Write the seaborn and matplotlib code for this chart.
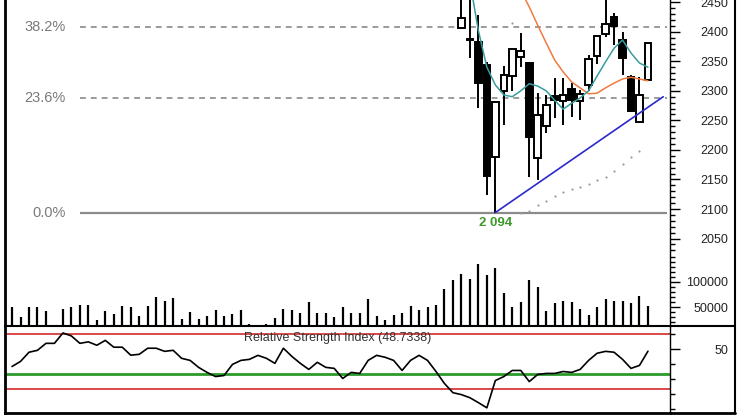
import matplotlib
matplotlib.use("Agg")
import matplotlib.pyplot as plt
import seaborn as sns
from matplotlib.patches import Rectangle
from matplotlib.lines import Line2D
from matplotlib.ticker import FixedLocator

# ---- data (bar index 0..75) ----
volume = [50000, 30000, 50000, 50000, 42000, 14000, 46000, 50000, 54000, 54000,
          24000, 42000, 36000, 52000, 50000, 32000, 52000, 70000, 62000, 68000,
          26000, 40000, 26000, 32000, 44000, 32000, 36000, 44000, 16000, 12000,
          16000, 28000, 46000, 44000, 38000, 60000, 38000, 38000, 30000, 50000,
          38000, 38000, 66000, 32000, 24000, 34000, 38000, 52000, 44000, 51000,
          55000, 87000, 105000, 117000, 107000, 137000, 114000, 128000, 78000, 51000,
          60000, 105000, 90000, 43000, 58000, 63000, 61000, 46000, 34000, 51000,
          67000, 63000, 63000, 58000, 73000, 53000]

rsi = [38.4, 41.8, 48.0, 49.3, 54.0, 54.0, 61.0, 59.0, 54.0, 55.0,
       52.7, 56.0, 51.4, 51.4, 46.0, 46.6, 50.7, 50.7, 48.6, 49.3,
       43.9, 42.5, 37.8, 34.4, 31.6, 32.3, 39.8, 42.5, 43.2, 45.9,
       43.9, 40.5, 50.7, 45.2, 40.5, 36.4, 41.2, 37.8, 37.1, 30.3,
       34.4, 33.7, 42.5, 45.9, 44.6, 42.5, 35.7, 42.5, 45.9, 42.5,
       35.0, 26.9, 20.7, 19.4, 17.3, 14.0, 10.5, 28.9, 31.6, 35.7,
       35.7, 28.2, 33.0, 33.7, 33.7, 35.0, 34.4, 36.4, 42.5, 47.3,
       48.6, 48.0, 43.2, 37.1, 39.1, 48.7]

# candles visible from bar 53 on (earlier ones sit above the price range)
candle_start = 53
opens = [2406, 2387, 2383, 2344, 2188, 2300, 2325, 2357, 2347, 2186, 2240, 2291,
         2283, 2303, 2283, 2310, 2359, 2396, 2425, 2386, 2323, 2247, 2318]
closes = [2423, 2386, 2313, 2156, 2281, 2327, 2371, 2367, 2222, 2259, 2276, 2284,
          2293, 2284, 2295, 2354, 2393, 2413, 2410, 2356, 2266, 2293, 2381]
highs = [2475, 2475, 2428, 2349, 2281, 2342, 2371, 2398, 2349, 2296, 2293, 2322,
         2322, 2313, 2301, 2361, 2393, 2475, 2432, 2400, 2327, 2323, 2381]
lows = [2406, 2356, 2271, 2124, 2094, 2242, 2300, 2340, 2154, 2149, 2229, 2254,
        2242, 2256, 2251, 2300, 2345, 2391, 2378, 2327, 2264, 2247, 2317]

ma_fast_start = 54
ma_fast = [2485, 2402, 2340, 2310, 2293, 2290, 2300, 2312, 2308, 2300, 2284,
           2269, 2279, 2288, 2300, 2325, 2349, 2372, 2386, 2364, 2347, 2340]
ma_slow_start = 60
ma_slow = [2470, 2442, 2411, 2381, 2352, 2332, 2315, 2305, 2295, 2296,
           2305, 2313, 2320, 2323, 2320, 2317]

sar_bars = [59, 60, 61, 62, 63, 64, 65, 66, 67, 68, 69, 70, 71, 72, 73, 74]
sar = [2415, 2094, 2097, 2106, 2113, 2122, 2129, 2134, 2137, 2142, 2149, 2154,
       2164, 2176, 2188, 2198]

fib_low, fib_high = 2094, 2916
fib_ratios = [0.0, 0.236, 0.382]
fib_labels = ["0.0%", "23.6%", "38.2%"]
trend_bars = [57, 76.8]
trend_prices = [2094, 2290]
rsi_upper, rsi_mid, rsi_lower = 60, 33, 23

sns.set_theme(style="white")
plt.rcParams['font.family'] = ['Liberation Sans', 'DejaVu Sans']

W, H = 740, 416
fig = plt.figure(figsize=(W / 100, H / 100), dpi=100)
ax = fig.add_axes([5 / W, 1 - 326 / H, 665 / W, 326 / H])
axv = ax.twinx()
axr = fig.add_axes([5 / W, 3 / H, 665 / W, 87 / H], sharex=ax)

bars = list(range(len(volume)))
ax.set_xlim(-0.83, 77.6)
ax.set_ylim(1902, 2453.7)
axv.set_ylim(12000, 664000)
axr.set_ylim(7, 65.7)

# fibonacci levels
for r, lab in zip(fib_ratios, fib_labels):
    p = fib_low + r * (fib_high - fib_low)
    if r == 0:
        ax.hlines(p, 8, 77.2, color='#8a8a8a', lw=1.6, zorder=1)
    else:
        ax.hlines(p, 8, 77.2, color='#8a8a8a', lw=1.2, linestyles=(0, (3.5, 3)), zorder=1)
    ax.text(6.3, p, lab, ha='right', va='center', fontsize=10.5, color='#7a7a7a')

# candles
w = 0.78
for k in range(len(opens)):
    x = candle_start + k
    o, c, h, l = opens[k], closes[k], highs[k], lows[k]
    ax.vlines(x, l, h, color='black', lw=1.4, zorder=2)
    bottom = min(o, c)
    height = max(abs(c - o), 1.5)
    fc = 'white' if c > o else 'black'
    ax.add_patch(Rectangle((x - w / 2, bottom), w, height, facecolor=fc,
                           edgecolor='black', lw=1.4, zorder=2.5))

# moving averages, trend line, SAR dots
ax.plot(range(ma_slow_start, ma_slow_start + len(ma_slow)), ma_slow,
        color='#f07a40', lw=1.1, zorder=3)
ax.plot(range(ma_fast_start, ma_fast_start + len(ma_fast)), ma_fast,
        color='#3a9c9c', lw=1.1, zorder=3)
ax.plot(trend_bars, trend_prices, color='#2a2acc', lw=1.2, zorder=3)
ax.scatter(sar_bars, sar, s=2.5, color='#9a9a9a', zorder=3, linewidths=0)
ax.text(57, 2076, "2 094", ha='center', va='center', fontsize=9.5,
        fontweight='bold', color='#3d9a2b')

# volume
axv.vlines(bars, 12000, volume, color='black', lw=1.6)

# RSI
axr.axhline(rsi_upper, color='#d42a2a', lw=1.2)
axr.axhline(rsi_lower, color='#d42a2a', lw=1.2)
axr.axhline(rsi_mid, color='#2a9a2a', lw=2)
sns.lineplot(x=bars, y=rsi, ax=axr, color='black', lw=1.2, zorder=3)
axr.set_xlabel("")
axr.set_ylabel("")
axr.text(0.5, 0.862, "Relative Strength Index (48.7338)", transform=axr.transAxes,
         ha='center', va='center', fontsize=9, color='#333333')

# axes styling
pad = 35
for a in (ax, axv, axr):
    a.yaxis.tick_right()
    a.tick_params(axis='y', which='major', direction='out', length=7, width=1,
                  pad=pad, labelsize=9, colors='black', labelcolor='#222222')
    a.tick_params(axis='y', which='minor', direction='out', length=3.5, width=1,
                  colors='black')
    a.tick_params(axis='x', bottom=False, labelbottom=False, top=False)
    for s in a.spines.values():
        s.set_visible(False)

ax.set_yticks(list(range(2050, 2451, 50)))
ax.yaxis.set_minor_locator(FixedLocator([v for v in range(2030, 2451, 10) if v % 50]))
axv.set_yticks([50000, 100000])
axv.yaxis.set_minor_locator(FixedLocator([v for v in range(20000, 150001, 10000)
                                          if v not in (50000, 100000)]))
axr.set_yticks([50])
axr.yaxis.set_minor_locator(FixedLocator([10, 20, 30, 40, 60]))
for a in (ax, axv, axr):
    plt.setp(a.get_yticklabels(), ha='right')

ax.spines['left'].set_visible(True)
ax.spines['left'].set_linewidth(2)
ax.spines['right'].set_visible(True)
ax.spines['right'].set_linewidth(1)
for s in ('left', 'right', 'top', 'bottom'):
    axr.spines[s].set_visible(True)
axr.spines['left'].set_linewidth(2)
axr.spines['bottom'].set_linewidth(2)
axr.spines['top'].set_linewidth(1.5)
axr.spines['right'].set_linewidth(1)
for a in (ax, axv, axr):
    for s in a.spines.values():
        s.set_color('black')
ax.set_ylabel("")
axv.set_ylabel("")

# outer frame to the right of the scales
fig.add_artist(Line2D([670 / W, 735 / W], [1 - 326 / H] * 2, color='black', lw=1.5))
fig.add_artist(Line2D([670 / W, 735 / W], [1 - 413 / H] * 2, color='black', lw=2))
fig.add_artist(Line2D([735 / W] * 2, [1 - 413 / H, 1], color='black', lw=1.5))

fig.savefig("out.png", dpi=100)
